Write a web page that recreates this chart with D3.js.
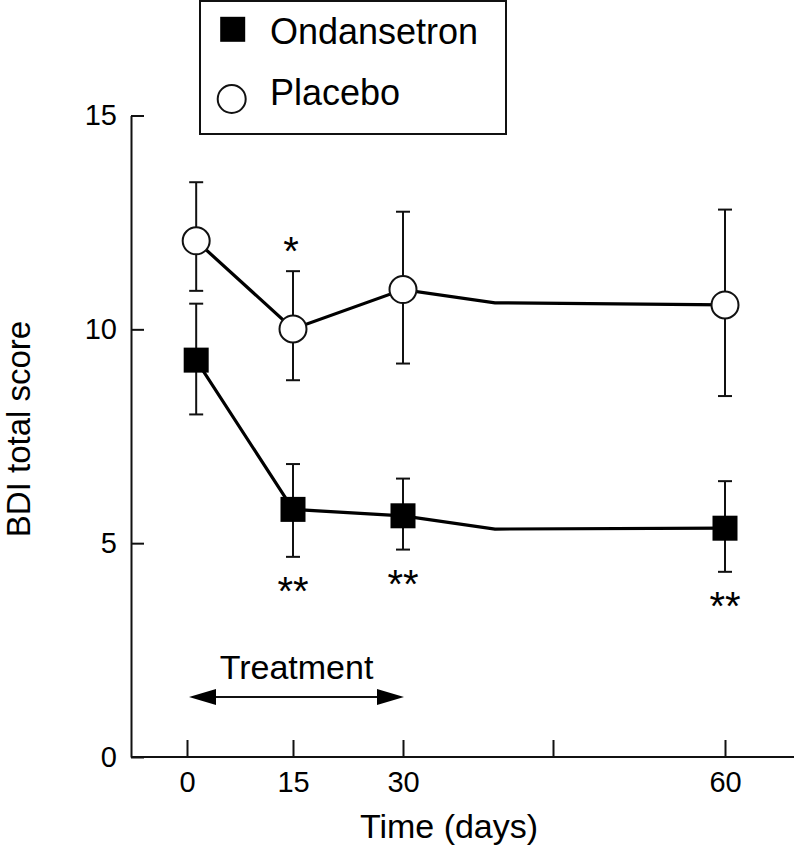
<!DOCTYPE html>
<html>
<head>
<meta charset="utf-8">
<script src="https://cdn.jsdelivr.net/npm/d3@7"></script>
<style>
  html, body { margin: 0; padding: 0; background: #fff; }
  svg { display: block; }
  text { font-family: "Liberation Sans", Arial, sans-serif; fill: #000; }
</style>
</head>
<body>
<svg id="chart" width="794" height="853"></svg>
<script>
// ---- data ----
const tickDays   = [0, 15, 30, 45, 60];
const tickLabels = ["0", "15", "30", "", "60"];
const yTicks     = [0, 5, 10, 15];

const obsDays  = [1.3, 15, 30, 60];
const ondMean  = [9.28, 5.79, 5.64, 5.35];
const ondUpper = [10.60, 6.85, 6.51, 6.45];
const ondLower = [8.01, 4.68, 4.85, 4.33];
const ondStars = ["", "**", "**", "**"];

const plaMean  = [12.07, 10.01, 10.93, 10.57];
const plaUpper = [13.44, 11.36, 12.75, 12.80];
const plaLower = [10.90, 8.81, 9.20, 8.44];
const plaStars = ["", "*", "", ""];

// line-only vertex between day 30 and day 60
const bendDay = 39.2;
const ondBend = 5.33;
const plaBend = 10.62;

const treatmentDays = [0, 30];
const seriesNames = ["Ondansetron", "Placebo"];

// ---- layout ----
const svg = d3.select("#chart");
const axisX0 = 131, axisXEnd = 794;
const tickPx = [187, 293, 403, 553, 725];   // hand-drawn (uneven) day axis
const x = d3.scaleLinear().domain(tickDays).range(tickPx);
const y = d3.scaleLinear().domain([0, 15]).range([757, 115.5]);

const stroke = "#111";

// axes
const yAxis = d3.axisLeft(y).tickValues(yTicks).tickSizeInner(-13).tickSizeOuter(0).tickPadding(14)
  .tickFormat(d3.format("d"));
const gy = svg.append("g").attr("transform", `translate(${axisX0},0)`).call(yAxis);
gy.selectAll("path, line").attr("stroke", stroke).attr("stroke-width", 2);
gy.selectAll("text").attr("font-size", 29).attr("font-family", "Liberation Sans, Arial, sans-serif")
  .attr("fill", "#000");

const xAxis = d3.axisBottom(x).tickValues(tickDays).tickSizeInner(-17).tickSizeOuter(0)
  .tickFormat((d, i) => tickLabels[i]);
const gx = svg.append("g").attr("transform", `translate(0,${y(0)})`).call(xAxis);
gx.select(".domain").remove();
gx.selectAll("line").attr("stroke", stroke).attr("stroke-width", 2);
gx.selectAll("text").attr("dy", null).attr("y", 35).attr("font-size", 29)
  .attr("font-family", "Liberation Sans, Arial, sans-serif").attr("fill", "#000");
svg.append("line").attr("x1", axisX0).attr("x2", axisXEnd).attr("y1", y(0)).attr("y2", y(0))
  .attr("stroke", stroke).attr("stroke-width", 2);

// axis titles
svg.append("text").attr("transform", "translate(30,429) rotate(-90)")
  .attr("text-anchor", "middle").attr("font-size", 33).text("BDI total score");
svg.append("text").attr("x", 449).attr("y", 838)
  .attr("text-anchor", "middle").attr("font-size", 34).text("Time (days)");

// series
function buildSeries(mean, upper, lower, stars) {
  return obsDays.map((d, i) => ({ day: d, mean: mean[i], upper: upper[i], lower: lower[i], star: stars[i] }));
}
const ond = buildSeries(ondMean, ondUpper, ondLower, ondStars);
const pla = buildSeries(plaMean, plaUpper, plaLower, plaStars);

function linePts(series, bend) {
  const pts = series.map(p => [p.day, p.mean]);
  pts.splice(3, 0, [bendDay, bend]);
  return pts;
}
const line = d3.line().x(d => x(d[0])).y(d => y(d[1]));

[[ond, ondBend], [pla, plaBend]].forEach(([s, b]) => {
  svg.append("path").attr("d", line(linePts(s, b))).attr("fill", "none")
    .attr("stroke", "#000").attr("stroke-width", 3.2).attr("stroke-linejoin", "miter");
});

// error bars
function errorBars(series) {
  const g = svg.append("g");
  series.forEach(p => {
    const cx = x(p.day);
    g.append("line").attr("x1", cx).attr("x2", cx).attr("y1", y(p.upper)).attr("y2", y(p.lower))
      .attr("stroke", stroke).attr("stroke-width", 2);
    [p.upper, p.lower].forEach(v => {
      g.append("line").attr("x1", cx - 7).attr("x2", cx + 7).attr("y1", y(v)).attr("y2", y(v))
        .attr("stroke", stroke).attr("stroke-width", 2);
    });
  });
}
errorBars(pla);
errorBars(ond);

// markers
const sq = 25, r = 13.5;
svg.append("g").selectAll("rect").data(ond).join("rect")
  .attr("x", d => x(d.day) - sq / 2).attr("y", d => y(d.mean) - sq / 2)
  .attr("width", sq).attr("height", sq).attr("fill", "#000");
svg.append("g").selectAll("circle").data(pla).join("circle")
  .attr("cx", d => x(d.day)).attr("cy", d => y(d.mean)).attr("r", r)
  .attr("fill", "#fff").attr("stroke", stroke).attr("stroke-width", 2);

// significance stars (asterisk glyph centre sits ~0.58em above baseline)
const starFs = 40;
svg.append("g").selectAll("text").data(pla.filter(d => d.star)).join("text")
  .attr("x", d => x(d.day) - 2).attr("y", d => y(d.upper) - 29 + 0.58 * starFs)
  .attr("text-anchor", "middle").attr("font-size", starFs).text(d => d.star);
svg.append("g").selectAll("text").data(ond.filter(d => d.star)).join("text")
  .attr("x", d => x(d.day)).attr("y", d => y(d.lower) + 25 + 0.58 * starFs)
  .attr("text-anchor", "middle").attr("font-size", starFs).text(d => d.star);

// treatment arrow
const ay = 697, ah = 27, aw = 8;
const ax1 = x(treatmentDays[0]) + 2, ax2 = x(treatmentDays[1]) + 1;
svg.append("line").attr("x1", ax1 + ah - 2).attr("x2", ax2 - ah + 2).attr("y1", ay).attr("y2", ay)
  .attr("stroke", stroke).attr("stroke-width", 2);
svg.append("path").attr("d", `M${ax1},${ay} L${ax1 + ah},${ay - aw} L${ax1 + ah},${ay + aw} Z`).attr("fill", "#000");
svg.append("path").attr("d", `M${ax2},${ay} L${ax2 - ah},${ay - aw} L${ax2 - ah},${ay + aw} Z`).attr("fill", "#000");
svg.append("text").attr("x", (ax1 + ax2) / 2).attr("y", 679).attr("text-anchor", "middle")
  .attr("font-size", 34).text("Treatment");

// legend
const lg = svg.append("g");
lg.append("rect").attr("x", 200).attr("y", 1).attr("width", 306).attr("height", 133)
  .attr("fill", "#fff").attr("stroke", stroke).attr("stroke-width", 2);
lg.append("rect").attr("x", 232.7 - sq / 2).attr("y", 29.3 - sq / 2).attr("width", sq).attr("height", sq).attr("fill", "#000");
lg.append("circle").attr("cx", 231.7).attr("cy", 99).attr("r", 14).attr("fill", "#fff")
  .attr("stroke", stroke).attr("stroke-width", 2);
lg.append("text").attr("x", 270).attr("y", 44).attr("font-size", 36).text(seriesNames[0]);
lg.append("text").attr("x", 270).attr("y", 105).attr("font-size", 36).text(seriesNames[1]);
</script>
</body>
</html>
